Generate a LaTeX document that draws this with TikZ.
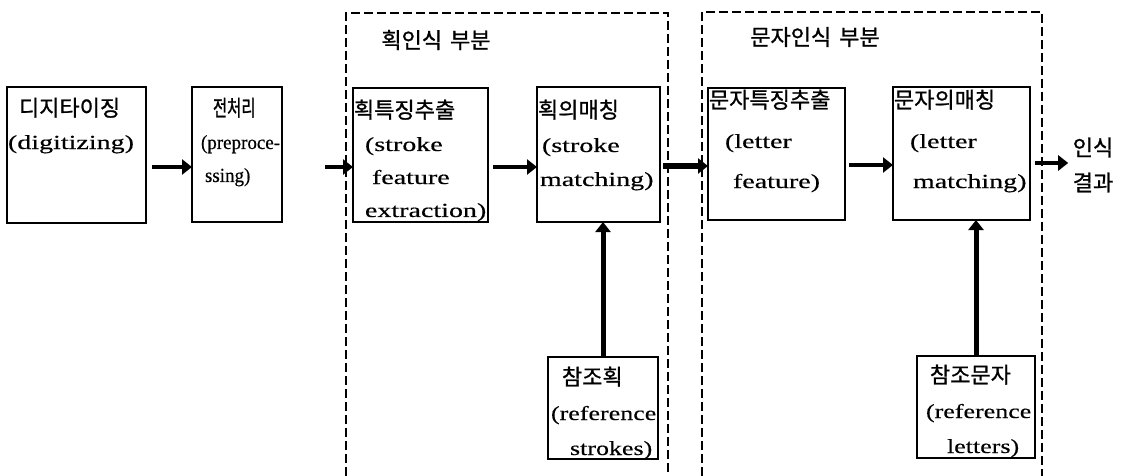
\documentclass[tikz,border=0pt]{standalone}
\usepackage{fontspec}
\usepackage{graphicx}
\setmainfont[FakeStretch=1.4,FakeBold=0.4]{Liberation Serif}
\newfontfamily\kr[Scale=1.1,FakeBold=1]{Noto Sans CJK KR}
\newfontfamily\krn[Scale=1.1,FakeStretch=0.7,FakeBold=1]{Noto Sans CJK KR}
\newfontfamily\latn[FakeStretch=0.95,FakeBold=0.4]{Liberation Serif}
\newfontfamily\latr[FakeStretch=1.3,FakeBold=0.4]{Liberation Serif}
\usetikzlibrary{arrows.meta}
\newcommand\bxt[5]{\parbox[c][#2pt][t]{#1pt}{\fontsize{20}{#4pt}\selectfont\noindent\rule{0pt}{#3pt}#5}}
\newcommand\ind[1]{\hspace*{#1pt}}
\begin{document}
\begin{tikzpicture}[x=1pt,y=-1pt,
  blk/.style={draw, line width=1.4pt, inner sep=0pt, outer sep=0pt},
  arr/.style={line width=4.5pt, -{Triangle[length=10pt,width=15pt]}},
  frame/.style={line width=1.4pt, dash pattern=on 9pt off 4pt},
  ttl/.style={font=\fontsize{20}{24}\selectfont\kr, inner sep=0pt}]
\useasboundingbox (0,0) rectangle (1130,476);
% dashed frames
\draw[frame] (346,476) -- (346,13) -- (668,13) -- (668,476);
\draw[frame] (702,476) -- (702,12) -- (1042,12) -- (1042,476);
\node[ttl] (t1) at (436,40) {획인식\hspace{8pt}부분};
\node[ttl] (t2) at (815,37) {문자인식\hspace{8pt}부분};
% boxes
\node[blk] (b1) at (76.5,155) {\bxt{139}{136}{29}{33}{\ind{12}{\kr 디지타이징}\\\ind{1}(digitizing)}};
\node[blk] (b2) at (237,154.5) {\bxt{90}{135}{29}{33}{\ind{21}{\krn 전처리}\\\ind{9}{\latn (preproce-}\\\ind{13}{\latn ssing)}}};
\node[blk] (b3) at (420.5,155) {\bxt{135}{134}{30}{33}{\ind{1}{\kr 획특징추출}\\\ind{12}(stroke\\\ind{19}feature\\\ind{12}extraction)}};
\node[blk] (b4) at (598.5,154.5) {\bxt{123}{135}{31}{34}{\ind{1}{\kr 획의매칭}\\\ind{5}(stroke\\\ind{3}matching)}};
\node[blk] (b5) at (776.5,154) {\bxt{137}{132}{20}{40}{\ind{1}{\kr 문자특징추출}\\\ind{17}(letter\\\ind{25}feature)}};
\node[blk] (b6) at (961.5,153.5) {\bxt{137}{133}{21}{40}{\ind{1}{\kr 문자의매칭}\\\ind{17}(letter\\\ind{20}matching)}};
\node[blk] (r1) at (603,408) {\bxt{110}{102}{28}{35}{\ind{14}{\kr 참조획}\\\ind{3}{\latr (reference}\\\ind{22}{\latr strokes)}}};
\node[blk] (r2) at (976,407) {\bxt{118}{102}{27}{35}{\ind{13}{\kr 참조문자}\\\ind{9}{\latr (reference}\\\ind{30}{\latr letters)}}};
\node[font=\fontsize{20}{35}\selectfont\kr, align=center] (res) at (1093,165) {인식\\결과};
% arrows
\coordinate (a1) at ([yshift=-12pt]b1.east);
\coordinate (a2) at ([yshift=-12.5pt]b2.east);
\coordinate (a3) at ([yshift=-12pt]b3.east);
\coordinate (a4) at ([yshift=-11.5pt]b4.east);
\coordinate (a5) at ([yshift=-11pt]b5.east);
\coordinate (a6) at ([yshift=-9.5pt]b6.east);
\draw[arr, shorten <=6pt] (a1) -- (a1 -| b2.west);
\draw[arr, shorten <=43pt] (a2) -- (a2 -| b3.west);
\draw[arr, shorten <=5pt] (a3) -- (a3 -| b4.west);
\draw[arr, line width=5.5pt, shorten <=3pt] (a4) -- (a4 -| b5.west);
\draw[arr, shorten <=4pt] (a5) -- (a5 -| b6.west);
\draw[arr, shorten <=5pt, shorten >=1pt] (a6) -- (a6 -| res.west);
\draw[arr, line width=5pt] (r1.north) -- (r1.north |- b4.south);
\draw[arr, line width=5pt] (r2.north) -- (r2.north |- b6.south);
\end{tikzpicture}
\end{document}
